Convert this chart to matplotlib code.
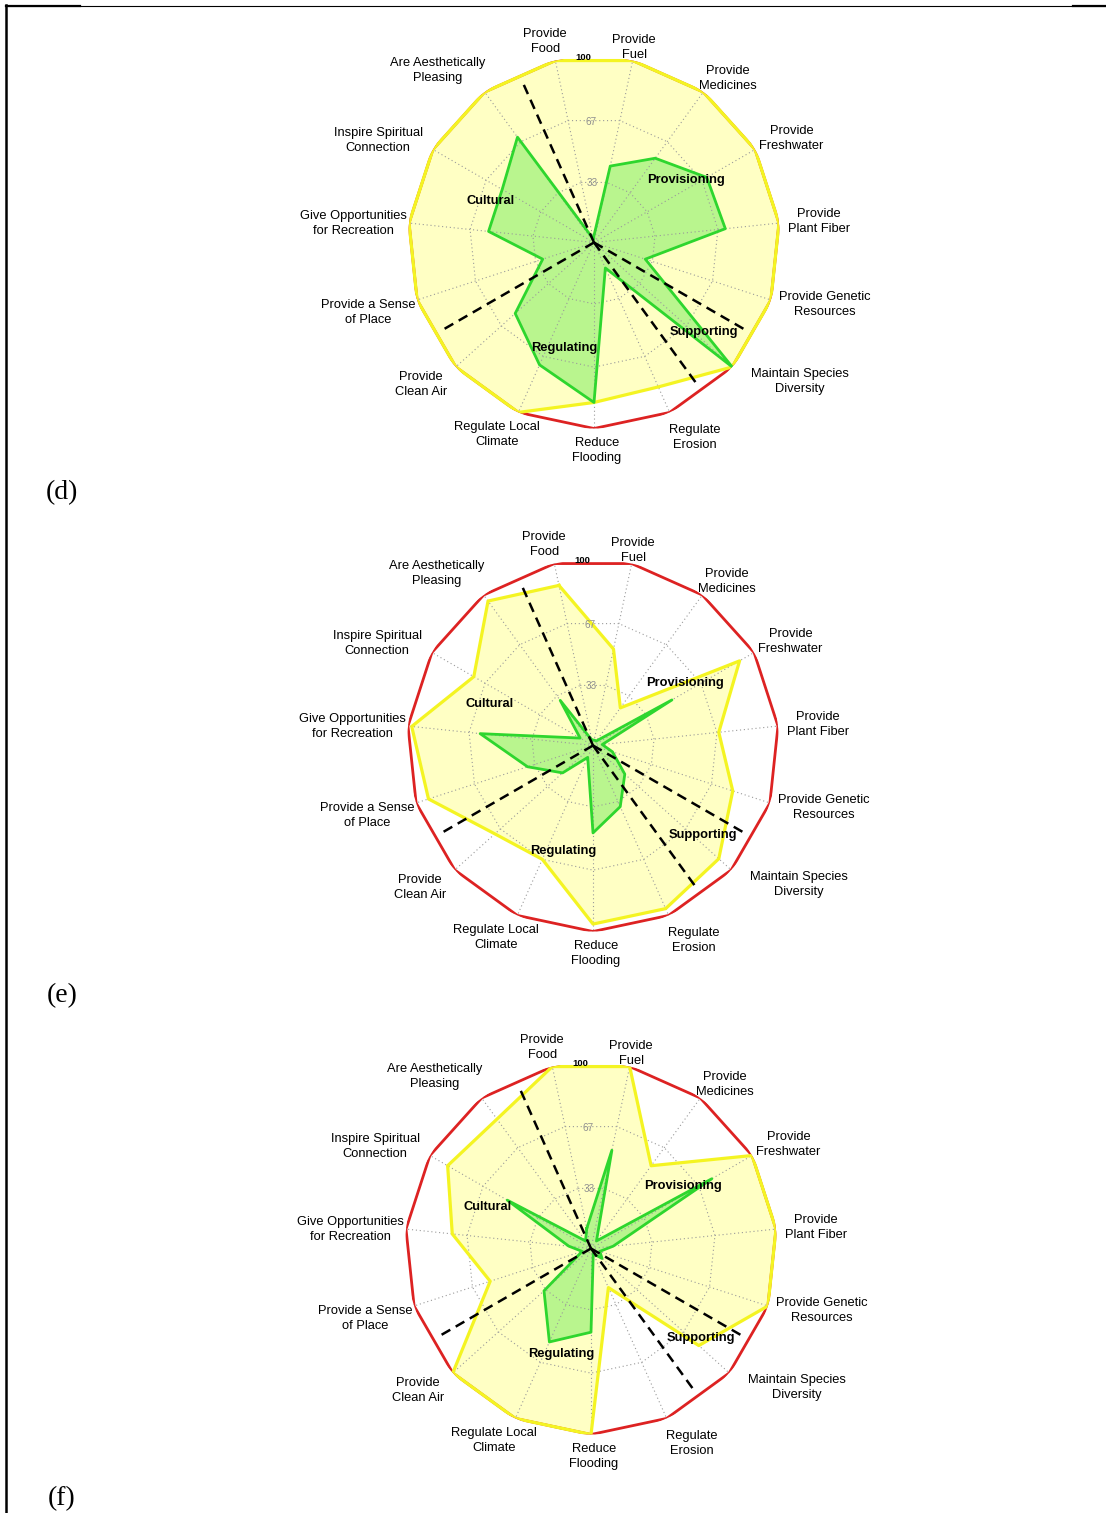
import numpy as np
import matplotlib.pyplot as plt
from matplotlib.lines import Line2D

plt.rcParams['font.family'] = ['Liberation Sans', 'DejaVu Sans']

# ecosystem services, clockwise from the top
services = ["Provide\nFood", "Provide\nFuel", "Provide\nMedicines", "Provide\nFreshwater",
            "Provide\nPlant Fiber", "Provide Genetic\nResources", "Maintain Species\nDiversity",
            "Regulate\nErosion", "Reduce\nFlooding", "Regulate Local\nClimate", "Provide\nClean Air",
            "Provide a Sense\nof Place", "Give Opportunities\nfor Recreation",
            "Inspire Spiritual\nConnection", "Are Aesthetically\nPleasing"]
groups = ["Provisioning", "Supporting", "Regulating", "Cultural"]
group_sizes = [6, 1, 4, 4]
ring_ticks = [33, 67, 100]
panel_names = ["(d)", "(e)", "(f)"]

max_score = [100] * 15

yellow_d = [100, 100, 100, 100, 100, 100, 100, 85, 86, 100, 100, 100, 100, 100, 100]
green_d = [2, 42, 56, 70, 71, 29, 100, 15, 86, 72, 57, 29, 57, 57, 70]

yellow_e = [88, 53, 25, 91, 68, 79, 91, 96, 96, 67, 71, 93, 98, 74, 96]
green_e = [3, 3, 3, 49, 5, 11, 23, 36, 47, 7, 22, 37, 61, 8, 30]

yellow_f = [100, 100, 55, 100, 100, 100, 78, 23, 100, 100, 100, 57, 75, 89, 86]
green_f = [11, 54, 5, 75, 12, 5, 8, 3, 45, 55, 34, 5, 12, 52, 5]

yellow_all = [yellow_d, yellow_e, yellow_f]
green_all = [green_d, green_e, green_f]

# label placement (angle in degrees, radius in score units)
label_pos = [(-13.7, 111), (11.6, 107), (39.3, 114), (62.3, 120), (84.7, 121.5),
             (105, 128.6), (124, 133.6), (152.6, 118), (179.2, 111.8), (206.8, 115.6),
             (230.6, 120.3), (252.8, 127.2), (274.5, 130), (295.3, 128.4), (317.8, 124.8)]
group_pos = [(55.8, 59.8), (129.1, 76.2), (195.9, 59), (291.9, 59.7)]

W, H = 1106, 1513
centres = [(594, 242.5), (593, 745.5), (591, 1248.5)]
R = 186

n = len(services)
theta = np.radians(-12 + 24 * np.arange(n))
closed = np.append(theta, theta[0])


def ring(vals):
    return np.append(vals, vals[0])


fig = plt.figure(figsize=(W / 100, H / 100), dpi=100)

for k in range(3):
    cx, cy = centres[k]
    ax = fig.add_axes([(cx - R) / W, 1 - (cy + R) / H, 2 * R / W, 2 * R / H], projection='polar')
    ax.set_theta_zero_location('N')
    ax.set_theta_direction(-1)
    ax.set_ylim(0, 100)
    ax.axis('off')

    ax.fill(closed, ring(yellow_all[k]), color='#ffffc4', zorder=1)
    ax.fill(closed, ring(green_all[k]), color='#b9f58e', zorder=2)

    # polygon grid
    for t in ring_ticks:
        ax.plot(closed, [t] * (n + 1), color='#9a9a9a', lw=0.8, ls=(0, (1, 2.5)), zorder=3)
    for a in theta:
        ax.plot([a, a], [0, 100], color='#9a9a9a', lw=0.8, ls=(0, (1, 2.5)), zorder=3)

    ax.plot(closed, ring(max_score), color='#dd2222', lw=2, zorder=4)
    ax.plot(closed, ring(yellow_all[k]), color='#f4f422', lw=2.3, zorder=5)
    ax.plot(closed, ring(green_all[k]), color='#2ed62e', lw=2, zorder=6)

    # dashed lines between the service groups
    edge = -12
    for size in group_sizes:
        edge += 24 * size
        a = np.radians(edge - 12)
        ax.plot([a, a], [0, 93], color='black', lw=1.8, ls=(0, (4, 2.5)), zorder=7)

    for lab, (ang, r) in zip(services, label_pos):
        ax.text(np.radians(ang), r, lab, ha='center', va='center', fontsize=9.3,
                linespacing=1.33, clip_on=False)
    for g, (ang, r) in zip(groups, group_pos):
        ax.text(np.radians(ang), r, g, ha='center', va='center', fontsize=9.3,
                fontweight='bold', zorder=8)
    for t in ring_ticks[:2]:
        ax.text(np.radians(-1.5), t * 0.97, str(t), ha='center', va='center',
                fontsize=7.2, color='#8f8f8f', zorder=8)
    ax.text(np.radians(-3.4), 99.5, "100", ha='center', va='center', fontsize=6.8,
            fontweight='bold', zorder=8, clip_on=False)

    fig.text(62 / W, 1 - (cy + 250.5) / H, panel_names[k], ha='center', va='center',
             fontsize=20, family='Liberation Serif')

# page border
fig.add_artist(Line2D([6 / W, 1], [1 - 5.5 / H] * 2, color='black', lw=0.8))
fig.add_artist(Line2D([6 / W, 80 / W], [1 - 5.8 / H] * 2, color='black', lw=1.6))
fig.add_artist(Line2D([1073 / W, 1], [1 - 5.8 / H] * 2, color='black', lw=1.6))
fig.add_artist(Line2D([6.2 / W] * 2, [0, 1 - 5 / H], color='black', lw=1.8))

fig.savefig('out.png', dpi=100)
